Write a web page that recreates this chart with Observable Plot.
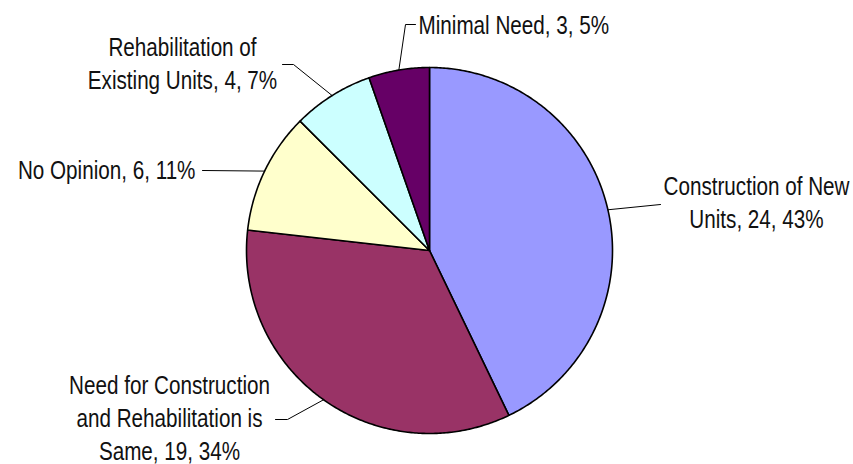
<!DOCTYPE html>
<html>
<head>
<meta charset="utf-8">
<script src="https://cdn.jsdelivr.net/npm/d3@7"></script>
<script src="https://cdn.jsdelivr.net/npm/@observablehq/plot@0.6"></script>
<style>
  html, body { margin: 0; padding: 0; background: #ffffff; }
  #chart svg { display: block; }
</style>
</head>
<body>
<div id="chart"></div>
<script>
// ---- Data ----
const categories = [
  "Construction of New Units",
  "Need for Construction and Rehabilitation is Same",
  "No Opinion",
  "Rehabilitation of Existing Units",
  "Minimal Need"
];
const labelNames = [
  "Construction of New\nUnits",
  "Need for Construction\nand Rehabilitation is\nSame",
  "No Opinion",
  "Rehabilitation of\nExisting Units",
  "Minimal Need"
];
const values = [24, 19, 6, 4, 3];
const percents = [43, 34, 11, 7, 5];
const colors = ["#9999FF", "#993366", "#FFFFCC", "#CCFFFF", "#660066"];

// ---- Layout (pixels) ----
const W = 853, H = 464;
const CX = 429, CY = 250, R = 183;
const FONT = "'Liberation Sans', Arial, sans-serif";
const FS = 26.5;          // font size (px)
const NARROW = 0.78;      // horizontal compression to mimic a narrow face
const LH = 33 / FS;       // line height in em
// label anchor + leader path (elbow then text end), per slice
const labelLayout = [
  {tx: 756, ty: 200, anchor: "middle", leader: [[660, 204]]},
  {tx: 169, ty: 416, anchor: "middle", leader: [[287, 419], [275, 419]]},
  {tx: 195, ty: 168, anchor: "end",    leader: [[202, 170]]},
  {tx: 182, ty: 61,  anchor: "middle", leader: [[293, 64], [282, 64]]},
  {tx: 418, ty: 23,  anchor: "start",  leader: [[405, 24], [415, 24]]}
];

// ---- Pie geometry ----
const pieData = d3.pie().sort(null).value(d => d)(values);
const polys = [];
pieData.forEach((p, i) => {
  polys.push({cat: categories[i], x: CX, y: CY});
  const n = Math.max(4, Math.ceil((p.endAngle - p.startAngle) / 0.01));
  for (let k = 0; k <= n; k++) {
    const a = p.startAngle + (p.endAngle - p.startAngle) * k / n;
    polys.push({cat: categories[i], x: CX + R * Math.sin(a), y: CY - R * Math.cos(a)});
  }
});

const leaders = [];
pieData.forEach((p, i) => {
  const a = (p.startAngle + p.endAngle) / 2;
  leaders.push({cat: categories[i], x: CX + R * Math.sin(a), y: CY - R * Math.cos(a)});
  labelLayout[i].leader.forEach(([x, y]) => leaders.push({cat: categories[i], x, y}));
});

const labels = categories.map((c, i) => ({
  cat: c,
  text: `${labelNames[i]}, ${values[i]}, ${percents[i]}%`,
  x: labelLayout[i].tx,
  y: labelLayout[i].ty,
  anchor: labelLayout[i].anchor
}));

const textMark = (anchor) => Plot.text(labels.filter(d => d.anchor === anchor), {
  x: "x", y: "y", text: "text",
  textAnchor: anchor, lineAnchor: "middle", lineHeight: LH,
  fontSize: FS, fontFamily: FONT, fill: "#111", className: "pie-label"
});

const chart = Plot.plot({
  width: W, height: H,
  margin: 0,
  x: {domain: [0, W], range: [0, W], axis: null},
  y: {domain: [0, H], range: [0, H], axis: null},
  color: {domain: categories, range: colors},
  style: {background: "#ffffff", fontFamily: FONT, overflow: "visible"},
  marks: [
    Plot.line(polys, {x: "x", y: "y", z: "cat", fill: "cat", stroke: "#000", strokeWidth: 1.6, curve: "linear-closed", strokeLinejoin: "round"}),
    Plot.line(leaders, {x: "x", y: "y", z: "cat", stroke: "#000", strokeWidth: 1}),
    textMark("middle"),
    textMark("start"),
    textMark("end")
  ]
});

// compress the label glyphs horizontally around their anchor points
chart.querySelectorAll("g.pie-label text").forEach(t => {
  let tr = t.getAttribute("transform");
  if (!tr) {
    const x = +t.getAttribute("x") || 0, y = +t.getAttribute("y") || 0;
    t.removeAttribute("x"); t.removeAttribute("y");
    tr = `translate(${x},${y})`;
  }
  t.setAttribute("transform", `${tr} scale(${NARROW},1)`);
});

document.getElementById("chart").appendChild(chart);
</script>
</body>
</html>
